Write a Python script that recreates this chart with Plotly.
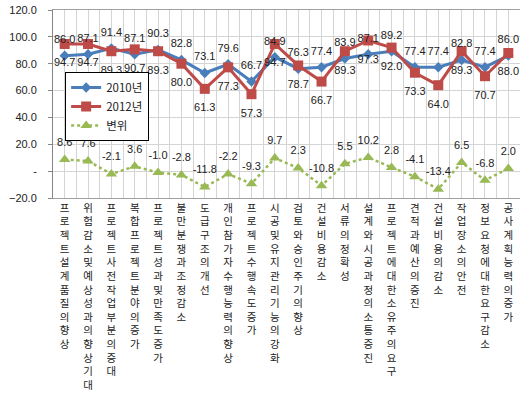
import plotly.graph_objects as go

categories = [
    "프로젝트 설계 품질의 향상",
    "위험감소 및 예상성과의 향상 기대",
    "프로젝트 사전작업 부분의 증대",
    "복합프로젝트 분야의 증가",
    "프로젝트 성과 및 만족도 증가",
    "불만 분쟁과 조정 감소",
    "도급구조의 개선",
    "개인참가자 수행능력의 향상",
    "프로젝트 수행속도 증가",
    "시공 및 유지관리 기능의 강화",
    "검토와 승인주기의 향상",
    "건설 비용 감소",
    "서류의 정확성",
    "설계와 시공과정의 소통 증진",
    "프로젝트에 대한 소유주의 요구",
    "견적과 예산의 증진",
    "건설 비용의 감소",
    "작업장소의 안전",
    "정보 요청에 대한 요구 감소",
    "공사계획 능력의 증가",
]
y2010 = [86.0, 87.1, 91.4, 87.1, 90.3, 82.8, 73.1, 79.6, 66.7, 84.9,
         76.3, 77.4, 83.9, 87.1, 89.2, 77.4, 77.4, 82.8, 77.4, 86.0]
y2012 = [94.7, 94.7, 89.3, 90.7, 89.3, 80.0, 61.3, 77.3, 57.3, 94.7,
         78.7, 66.7, 89.3, 97.3, 92.0, 73.3, 64.0, 89.3, 70.7, 88.0]
change = [8.6, 7.6, -2.1, 3.6, -1.0, -2.8, -11.8, -2.2, -9.3, 9.7,
          2.3, -10.8, 5.5, 10.2, 2.8, -4.1, -13.4, 6.5, -6.8, 2.0]
y_min, y_max, y_step = -20, 120, 20
zero_label = "-"

FONT = "Noto Sans CJK KR"
NUM_FONT = "Liberation Sans"
x = list(range(len(categories)))
vert_labels = ["<br>".join(ch for ch in c if ch != " ") for c in categories]
lbl_font = dict(size=11, color="#222222", family=NUM_FONT)

fig = go.Figure()
series = [
    ("2010년", y2010, "#4A7EBB", "diamond", 8, 3, "solid", "top center", 14),
    ("2012년", y2012, "#BE4B48", "square", 10, 3, "solid", "bottom center", 21),
    ("변위", change, "#98B954", "triangle-up", 10, 2.5, "dot", "top center", 16),
]
for name, ys, col, sym, msize, lw, dash, tpos, lsize in series:
    fig.add_trace(go.Scatter(
        x=x, y=ys, name=name, mode="lines+markers",
        line=dict(color=col, width=lw, dash=dash),
        marker=dict(symbol=sym, size=msize, color=col),
    ))
for name, ys, col, sym, msize, lw, dash, tpos, lsize in series:
    fig.add_trace(go.Scatter(
        x=x, y=ys, mode="markers+text", showlegend=False, hoverinfo="skip",
        marker=dict(size=lsize, opacity=0, color=col),
        text=[f"{v:.1f}" for v in ys], textposition=tpos, textfont=lbl_font,
    ))

grid = "#D4D4D4"
fig.update_layout(
    width=522, height=393,
    margin=dict(l=53, r=2, t=10, b=195),
    paper_bgcolor="white", plot_bgcolor="white",
    font=dict(family=FONT, size=11, color="#222222"),
    showlegend=True,
    legend=dict(
        x=0.026, y=0.67, xanchor="left", yanchor="top",
        bgcolor="white", bordercolor="#000000", borderwidth=1,
        font=dict(size=11.5, family=FONT),
        itemwidth=30, tracegroupgap=0,
    ),
    xaxis=dict(
        range=[-0.5, len(categories) - 0.5],
        tickmode="array", tickvals=x, ticktext=vert_labels,
        tickangle=0, tickfont=dict(size=10.5, family=FONT, color="#222222"),
        showgrid=True, gridcolor=grid, gridwidth=1,
        minor=dict(tickvals=[i - 0.5 for i in range(len(categories) + 1)],
                   showgrid=True, gridcolor=grid, gridwidth=1),
        showline=True, linecolor="#A0A0A0", linewidth=1, mirror=True,
        ticks="", zeroline=False, fixedrange=True,
    ),
    yaxis=dict(
        range=[y_min, y_max], tickmode="linear", tick0=y_min, dtick=y_step,
        tickformat=".1f", labelalias={"0.0": zero_label},
        ticklabelstandoff=9,
        tickfont=dict(size=11, family=NUM_FONT, color="#222222"),
        showgrid=True, gridcolor=grid, gridwidth=1,
        showline=True, linecolor="#868686", linewidth=1,
        ticks="outside", ticklen=4, tickcolor="#868686",
        ticklabeloverflow="allow", automargin=False,
        zeroline=False, fixedrange=True,
    ),
)
fig.write_html("out.html")
